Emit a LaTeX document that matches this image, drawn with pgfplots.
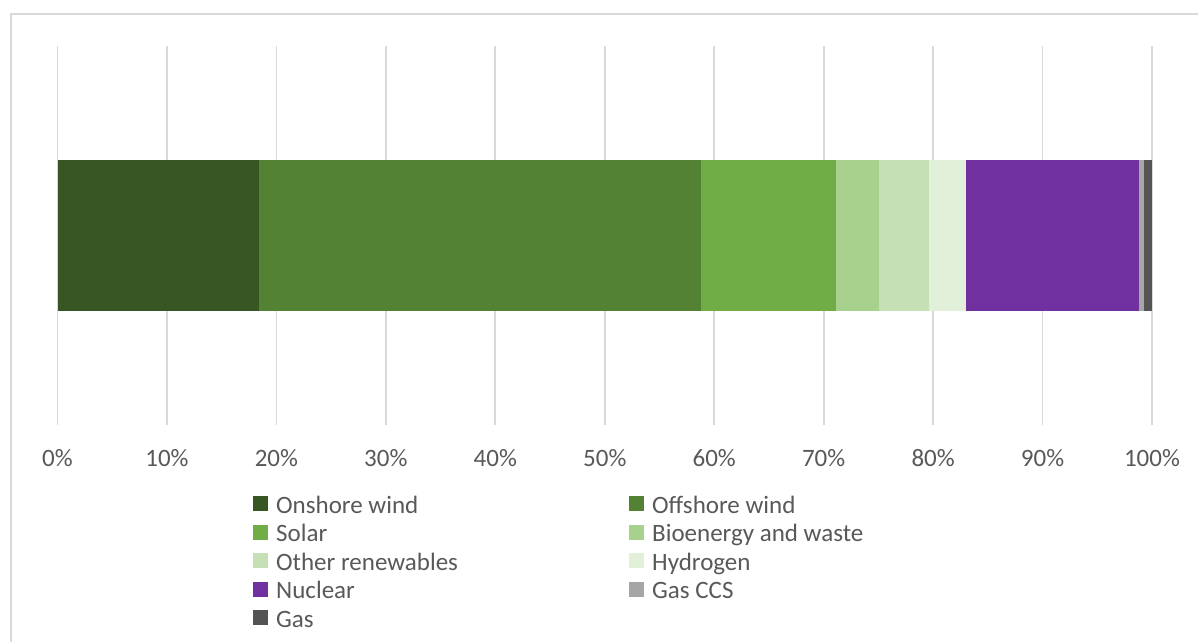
\documentclass[border=0pt]{standalone}
\usepackage{pgfplots}
\pgfplotsset{compat=1.18}
\usepackage{fontspec}
\setmainfont{Carlito}
\definecolor{onw}{HTML}{375623}
\definecolor{ofw}{HTML}{548235}
\definecolor{sol}{HTML}{70AD47}
\definecolor{bio}{HTML}{A9D18E}
\definecolor{oth}{HTML}{C5E0B4}
\definecolor{hyd}{HTML}{E2F0D9}
\definecolor{nuc}{HTML}{7030A0}
\definecolor{gccs}{HTML}{A6A6A6}
\definecolor{gas}{HTML}{545454}
\definecolor{txt}{HTML}{595959}
\definecolor{grd}{HTML}{D9D9D9}
\newcommand{\legent}[1]{\hspace*{8pt}\makebox[353pt][l]{#1}}
\begin{document}
\begin{tikzpicture}[x=1pt,y=1pt]
\useasboundingbox (0,0) rectangle (1198,641);
\fill[white] (0,0) rectangle (1198,641);
\draw[grd, line width=2pt] (11,-5) -- (11,627) -- (1205,627);
\begin{axis}[
  at={(57.5pt,216pt)}, anchor=south west,
  scale only axis, width=1094.5pt, height=379pt,
  xmin=0, xmax=100, ymin=-1, ymax=1,
  xbar stacked, bar width=151pt,
  axis line style={draw=none},
  major tick length=0pt,
  ytick=\empty,
  xtick={0,10,...,100},
  xticklabels={0\%,10\%,20\%,30\%,40\%,50\%,60\%,70\%,80\%,90\%,100\%},
  xticklabel style={anchor=base, inner sep=0pt, yshift=-41pt, text=txt},
  xmajorgrids, grid style={grd, line width=1.8pt},
  font=\fontsize{25}{30}\selectfont,
  legend columns=2,
  legend cell align=left,
  legend image code/.code={\fill[#1] (0pt,-2pt) rectangle (15pt,13pt);},
  legend style={at={(0.1786,-0.1847)}, anchor=north west, draw=none, fill=none,
    inner sep=0pt, column sep=0pt, row sep=0pt, text=txt,
    nodes={inner sep=0pt, text height=18pt, text depth=10.5pt}},
]
\addplot[fill=onw, draw=none] coordinates {(18.4,0)};
\addlegendentry{\legent{Onshore wind}}
\addplot[fill=ofw, draw=none] coordinates {(40.4,0)};
\addlegendentry{\legent{Offshore wind}}
\addplot[fill=sol, draw=none] coordinates {(12.3,0)};
\addlegendentry{\legent{Solar}}
\addplot[fill=bio, draw=none] coordinates {(3.95,0)};
\addlegendentry{\legent{Bioenergy and waste}}
\addplot[fill=oth, draw=none] coordinates {(4.55,0)};
\addlegendentry{\legent{Other renewables}}
\addplot[fill=hyd, draw=none] coordinates {(3.4,0)};
\addlegendentry{\legent{Hydrogen}}
\addplot[fill=nuc, draw=none] coordinates {(15.8,0)};
\addlegendentry{\legent{Nuclear}}
\addplot[fill=gccs, draw=none] coordinates {(0.5,0)};
\addlegendentry{\legent{Gas CCS}}
\addplot[fill=gas, draw=none] coordinates {(0.7,0)};
\addlegendentry{\legent{Gas}}
\end{axis}
\end{tikzpicture}
\end{document}
